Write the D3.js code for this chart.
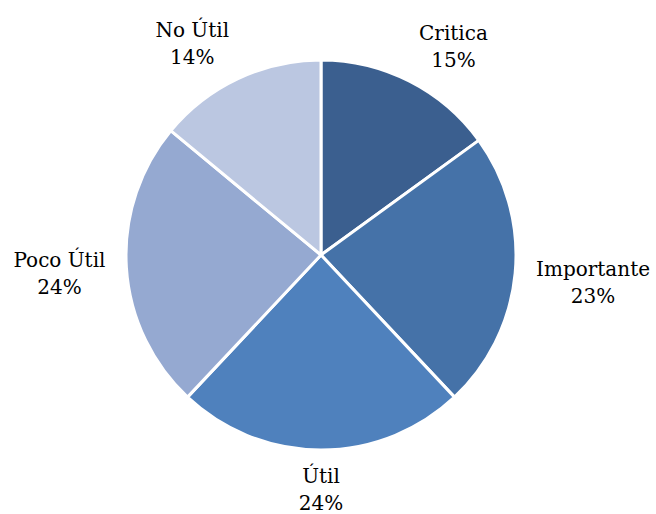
<!DOCTYPE html>
<html>
<head>
<meta charset="utf-8">
<script src="https://cdn.jsdelivr.net/npm/d3@7"></script>
<style>
  html, body { margin: 0; padding: 0; background: #ffffff; }
  svg { display: block; }
  text { font-family: "DejaVu Serif", "Liberation Serif", serif; font-size: 20px; fill: #000; }
</style>
</head>
<body>
<svg id="chart" width="656" height="514"></svg>
<script>
// Categories, shares (percent) and slice colours
const categories = ["Critica", "Importante", "Útil", "Poco Útil", "No Útil"];
const values = [15, 23, 24, 24, 14];
const colors = ["#3b5f8f", "#4572a8", "#4f81bd", "#95a9d1", "#bbc7e1"];

const width = 656, height = 514;
const cx = 321, cy = 255, radius = 195;

const svg = d3.select("#chart");
const g = svg.append("g").attr("transform", `translate(${cx},${cy})`);

const pie = d3.pie().sort(null).value(d => d.value);
const data = categories.map((c, i) => ({ name: c, value: values[i], color: colors[i] }));
const arcs = pie(data);

const arc = d3.arc().innerRadius(0).outerRadius(radius);

g.selectAll("path.slice")
  .data(arcs)
  .enter().append("path")
  .attr("class", "slice")
  .attr("d", arc)
  .attr("fill", d => d.data.color)
  .attr("stroke", "#ffffff")
  .attr("stroke-width", 3)
  .attr("stroke-linejoin", "round");

// Labels sit just outside each slice, the text box pushed away from the pie edge
const gapX = 21, gapY = 12, lineGap = 27, k = 2.5;
const clamp = v => Math.max(-1, Math.min(1, v));

arcs.forEach(d => {
  const mid = (d.startAngle + d.endAngle) / 2;
  const s = Math.sin(mid), c = Math.cos(mid);
  const ax = (radius + gapX) * s, ay = -(radius + gapY) * c;

  const t = g.append("text").attr("text-anchor", "middle");
  const l1 = t.append("tspan").text(d.data.name);
  const l2 = t.append("tspan").text(d.data.value + "%");

  const w = Math.max(l1.node().getComputedTextLength(), l2.node().getComputedTextLength());
  const h = 52;
  const bx = ax + (w / 2) * clamp(s * k);
  const by = ay - (h / 2) * clamp(c * k);

  l1.attr("x", bx).attr("y", by - 5);
  l2.attr("x", bx).attr("y", by - 5 + lineGap);
});
</script>
</body>
</html>
